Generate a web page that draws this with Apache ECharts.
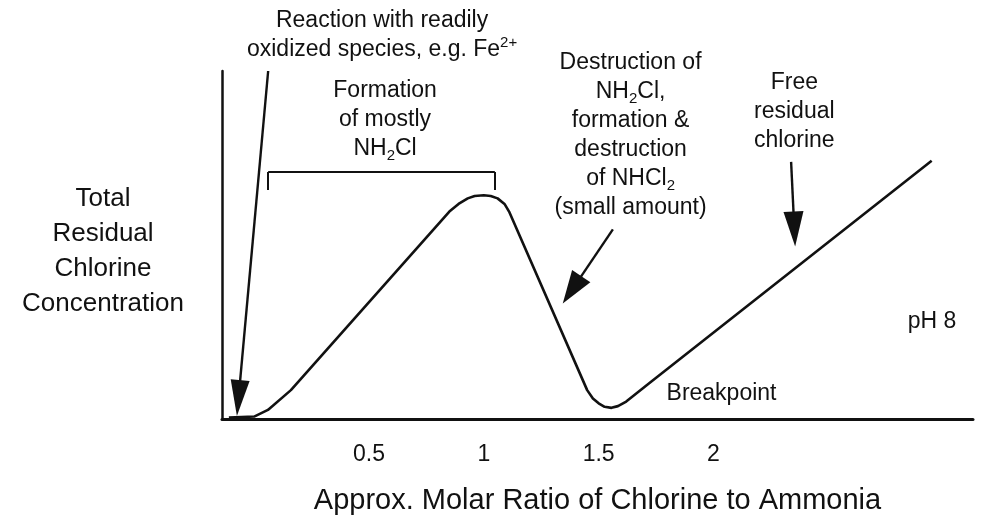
<!DOCTYPE html>
<html>
<head>
<meta charset="utf-8">
<script src="https://cdn.jsdelivr.net/npm/echarts@6/dist/echarts.min.js"></script>
<style>
  html, body { margin: 0; padding: 0; background: #fff; }
  #main { width: 982px; height: 524px; }
</style>
</head>
<body>
<div id="main"></div>
<script>
// breakpoint curve (x = molar ratio, y = relative residual)
const ratio = [-0.11, 0.0, 0.06, 0.16, 0.85, 0.89, 0.93, 0.96, 1.0, 1.03, 1.06, 1.09, 1.11,
  1.45, 1.475, 1.5, 1.526, 1.556, 1.584, 1.62, 1.72, 2.95];
const residual = [0.04, 0.07, 0.26, 0.83, 5.96, 6.18, 6.34, 6.41, 6.43, 6.41, 6.34, 6.18, 5.96,
  0.83, 0.59, 0.45, 0.35, 0.32, 0.37, 0.5, 1.03, 7.42];
const tickValues = [0.5, 1, 1.5, 2];

// annotations, in data units (lift = extra pixels above the plot top)
const notes = [
  { at: [0.557, 10], lift: 35.5, text: 'Reaction with readily\noxidized species, e.g. Fe{sup|2+}' },
  { at: [0.57, 8.6], lift: 0, text: 'Formation\nof mostly\nNH{sub|2}Cl' },
  { at: [1.639, 8.15], lift: 0, text: 'Destruction of\nNH{sub|2}Cl,\nformation &\ndestruction\nof NHCl{sub|2}\n(small amount)' },
  { at: [2.352, 8.83], lift: 0, text: 'Free\nresidual\nchlorine' },
  { at: [2.035, 0.72], lift: 0, text: 'Breakpoint' },
  { at: [2.952, 2.79], lift: 0, text: 'pH 8' }
];
const arrows = [
  [[0.061, 10.0], [-0.068, 0.6]],
  [[1.562, 5.45], [1.384, 3.71]],
  [[2.338, 7.39], [2.352, 5.46]]
];
const arrowHeads = [[19, 36], [22, 33], [20, 35]];
const bracket = [[0.061, 6.58], [0.061, 7.1], [1.048, 7.1], [1.048, 6.58]];

const font = '"Liberation Sans", Arial, Helvetica, sans-serif';
const ink = '#111';

const lines = arrows.map((a, i) => [
  { coord: a[0], symbol: 'none' },
  { coord: a[1], symbol: 'triangle', symbolSize: arrowHeads[i] }
]);
for (let k = 0; k < bracket.length - 1; k++) {
  lines.push([
    { coord: bracket[k], symbol: 'none', lineStyle: { width: 2 } },
    { coord: bracket[k + 1], symbol: 'none' }
  ]);
}

const myChart = echarts.init(document.getElementById('main'));
myChart.setOption({
  animation: false,
  backgroundColor: '#fff',
  grid: { left: 222, right: 9, top: 71, bottom: 105 },
  xAxis: {
    type: 'value',
    min: -0.14,
    max: 3.13,
    splitLine: { show: false },
    axisTick: { show: false },
    axisLine: { onZero: false, lineStyle: { color: ink, width: 3 } },
    axisLabel: {
      customValues: tickValues,
      margin: 24,
      fontSize: 23,
      fontFamily: font,
      color: ink
    },
    name: 'Approx. Molar Ratio of Chlorine to Ammonia',
    nameLocation: 'middle',
    nameGap: 67,
    nameTextStyle: { fontSize: 29, fontFamily: font, color: ink }
  },
  yAxis: {
    type: 'value',
    min: 0,
    max: 10,
    splitLine: { show: false },
    axisTick: { show: false },
    axisLabel: { show: false },
    axisLine: { show: true, onZero: false, lineStyle: { color: ink, width: 2.5 } }
  },
  graphic: [{
    type: 'text',
    x: 103,
    y: 251,
    style: {
      text: 'Total\nResidual\nChlorine\nConcentration',
      align: 'center',
      verticalAlign: 'middle',
      fontSize: 26,
      lineHeight: 35,
      fontFamily: font,
      fill: ink
    }
  }],
  series: [{
    type: 'line',
    data: ratio.map((r, i) => [r, residual[i]]),
    symbol: 'none',
    clip: false,
    silent: true,
    lineStyle: { color: ink, width: 2.6, join: 'round' },
    markLine: {
      silent: true,
      symbol: ['none', 'none'],
      label: { show: false },
      lineStyle: { color: ink, width: 2.4, type: 'solid' },
      emphasis: { disabled: true },
      data: lines
    },
    markPoint: {
      silent: true,
      symbol: 'circle',
      symbolSize: 0,
      itemStyle: { color: 'transparent' },
      label: {
        show: true,
        position: 'inside',
        align: 'center',
        verticalAlign: 'middle',
        color: ink,
        fontSize: 23,
        lineHeight: 29,
        fontFamily: font,
        rich: {
          sub: { fontSize: 15, lineHeight: 20, verticalAlign: 'bottom', fontFamily: font, color: ink },
          sup: { fontSize: 15, lineHeight: 18, verticalAlign: 'top', fontFamily: font, color: ink }
        }
      },
      data: notes.map(n => ({
        coord: n.at,
        label: { formatter: n.text, offset: [0, -n.lift] }
      }))
    }
  }]
});
</script>
</body>
</html>
